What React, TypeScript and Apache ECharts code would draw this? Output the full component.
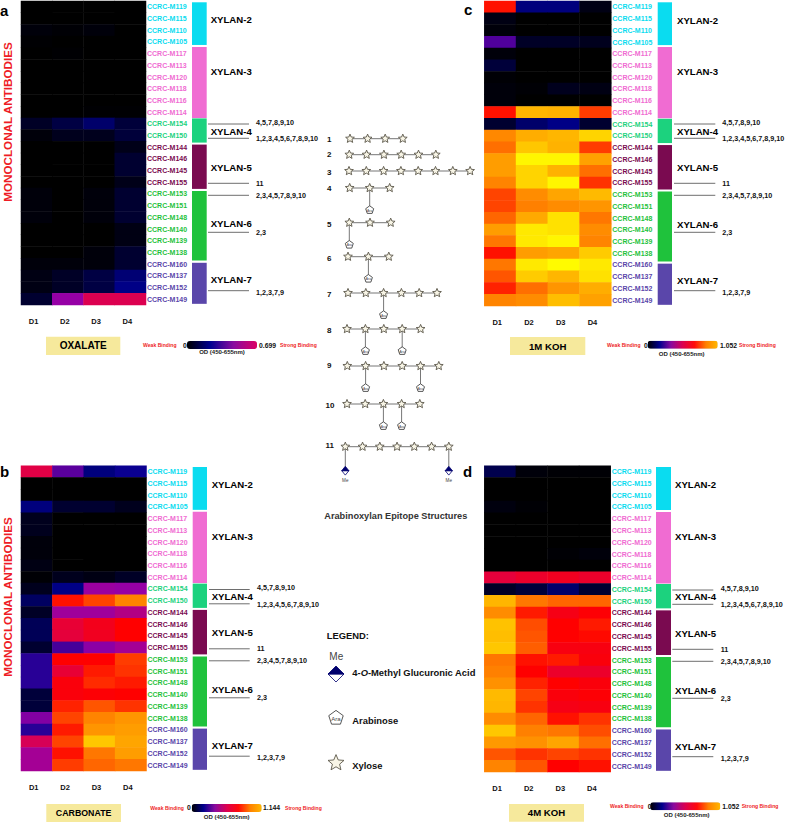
import React, { useEffect, useRef } from "react";
import * as echarts from "echarts";

const FONT = '"Liberation Sans", Arial, sans-serif';

const days = ["D1", "D2", "D3", "D4"];
const xylan2 = ["CCRC-M119", "CCRC-M115", "CCRC-M110", "CCRC-M105"];
const xylan3 = ["CCRC-M117", "CCRC-M113", "CCRC-M120", "CCRC-M118", "CCRC-M116", "CCRC-M114"];
const xylan4 = ["CCRC-M154", "CCRC-M150"];
const xylan5 = ["CCRC-M144", "CCRC-M146", "CCRC-M145", "CCRC-M155"];
const xylan6 = ["CCRC-M153", "CCRC-M151", "CCRC-M148", "CCRC-M140", "CCRC-M139", "CCRC-M138"];
const xylan7 = ["CCRC-M160", "CCRC-M137", "CCRC-M152", "CCRC-M149"];
const groupNames = ["XYLAN-2", "XYLAN-3", "XYLAN-4", "XYLAN-5", "XYLAN-6", "XYLAN-7"];
const groupMembers = [xylan2, xylan3, xylan4, xylan5, xylan6, xylan7];
const groupColors = ["#0ADCF0", "#F06CD2", "#1CD27E", "#7A0A50", "#1FC23C", "#5A46AA"];
const groupBandStart = [0.11, 3.93, 10.04, 12.28, 16.24, 22.39];
const groupBandEnd = [3.76, 10.0, 12.11, 16.07, 22.2, 25.9];
const groupLabelRow = [1.62, 6.04, 11.14, 14.22, 19.04, 23.8];
const epitopeLabels = ["4,5,7,8,9,10", "1,2,3,4,5,6,7,8,9,10", "11", "2,3,4,5,7,8,9,10", "2,3", "1,2,3,7,9"];
const epitopeLineY = [124, 138.3, 183.3, 195.3, 232.3, 290.7];
const epitopeTextY = [122, 138.5, 183.3, 195, 232.3, 292];

// Cell readings on one common colour scale (0 – 1.05), row by row, D1..D4
const oxalate = [
  [0, 0, 0, 0], [0, 0, 0, 0], [0.01, 0.005, 0.01, 0], [0.003, 0, 0, 0],
  [0, 0.003, 0, 0], [0, 0, 0, 0], [0, 0, 0, 0], [0, 0, 0, 0], [0, 0, 0, 0], [0, 0, 0.003, 0.003],
  [0.04, 0.07, 0.11, 0.06], [0.01, 0.03, 0.03, 0.06],
  [0, 0, 0, 0.025], [0, 0, 0, 0.05], [0, 0, 0, 0.05], [0, 0, 0, 0.025],
  [0.01, 0, 0.01, 0.05], [0.01, 0, 0.01, 0.05], [0.01, 0, 0.01, 0.05], [0, 0, 0, 0.02], [0, 0, 0, 0.02], [0, 0, 0.01, 0.05],
  [0.01, 0.01, 0.01, 0.05], [0.02, 0.04, 0.07, 0.12], [0.02, 0.04, 0.07, 0.14], [0.05, 0.3, 0.45, 0.45],
];
const carbonate = [
  [0.47, 0.24, 0.13, 0.16], [0, 0, 0, 0], [0, 0, 0, 0], [0.13, 0.05, 0.05, 0.03],
  [0.03, 0, 0, 0], [0.03, 0, 0, 0], [0.01, 0, 0, 0], [0.01, 0, 0, 0], [0.02, 0, 0, 0], [0.005, 0.03, 0.02, 0.04],
  [0.03, 0.14, 0.31, 0.3], [0.1, 0.62, 0.68, 0.76],
  [0.04, 0.32, 0.32, 0.36], [0.09, 0.5, 0.55, 0.6], [0.09, 0.49, 0.54, 0.6], [0.05, 0.22, 0.29, 0.33],
  [0.19, 0.6, 0.6, 0.67], [0.19, 0.5, 0.63, 0.66], [0.19, 0.58, 0.65, 0.63], [0.06, 0.58, 0.59, 0.6], [0.06, 0.64, 0.7, 0.66], [0.28, 0.68, 0.76, 0.8],
  [0.19, 0.63, 0.8, 0.82], [0.44, 0.68, 0.92, 0.84], [0.33, 0.62, 0.74, 0.82], [0.33, 0.67, 0.72, 0.74],
];
const koh1m = [
  [0.62, 0.13, 0.13, 0.02], [0.02, 0, 0, 0], [0.01, 0, 0, 0], [0.23, 0.04, 0.04, 0.03],
  [0.01, 0, 0, 0], [0.06, 0, 0, 0], [0.005, 0, 0, 0], [0.01, 0.005, 0.03, 0.02], [0.01, 0, 0, 0], [0.62, 0.88, 0.87, 0.67],
  [0.05, 0.11, 0.14, 0.05], [0.77, 0.86, 0.88, 0.95],
  [0.73, 0.92, 0.87, 0.67], [0.82, 1.03, 1.03, 0.83], [0.82, 0.95, 0.87, 0.73], [0.76, 0.95, 1.03, 0.66],
  [0.68, 0.78, 0.84, 0.89], [0.68, 0.75, 0.78, 0.8], [0.72, 0.85, 0.98, 0.74], [0.82, 1.0, 0.98, 0.78], [0.74, 1.0, 1.03, 0.76], [0.62, 0.82, 0.84, 0.93],
  [0.74, 1.0, 1.04, 1.0], [0.7, 0.93, 0.88, 0.98], [0.64, 0.73, 0.8, 0.86], [0.76, 0.78, 0.9, 0.83],
];
const koh4m = [
  [0.08, 0.01, 0.005, 0.005], [0, 0, 0, 0], [0, 0, 0, 0], [0.015, 0.005, 0, 0],
  [0, 0, 0, 0], [0, 0, 0, 0], [0, 0, 0, 0], [0, 0, 0.005, 0.01], [0, 0, 0, 0], [0.49, 0.52, 0.54, 0.52],
  [0.04, 0.06, 0.11, 0.05], [0.88, 0.74, 0.72, 0.72],
  [0.78, 0.63, 0.56, 0.59], [0.91, 0.69, 0.6, 0.63], [0.9, 0.7, 0.6, 0.61], [0.92, 0.71, 0.57, 0.57],
  [0.74, 0.62, 0.63, 0.58], [0.75, 0.6, 0.52, 0.52], [0.79, 0.64, 0.6, 0.58], [0.89, 0.68, 0.58, 0.59], [0.88, 0.66, 0.56, 0.57], [0.78, 0.72, 0.62, 0.66],
  [0.92, 0.75, 0.74, 0.69], [0.81, 0.79, 0.84, 0.73], [0.7, 0.66, 0.68, 0.66], [0.76, 0.7, 0.6, 0.62],
];

const heatColors = ["#000000", "#000090", "#9600A6", "#DC0050", "#FF0000", "#FF8000", "#FFBE00", "#FFFF00"];
const amberEndColors = ["#000000", "#00008C", "#8A0A9E", "#DC0050", "#FF0A0A", "#FF8000", "#FFB800"];
const crimsonEndColors = ["#000000", "#000090", "#8A0AA0", "#DC0064"];

const panels = [
  { letter: "a", values: oxalate, title: "OXALATE", titleSize: 10, max: "0.699", left: 21, right: 146, top: 1, bottom: 305, dy: 0,
    sideL: 192, sideR: 206.7, nameX: 210.7, lineL: 208, lineR: 249, textX: 256, letterX: 0, letterY: 10.7,
    box: [46, 336.7, 74.3, 18.3], bar: [187, 341], weakX: 143, zeroX: 183, maxX: 259, strongX: 280, legendY: 345, odX: 222, odY: 352, barColors: crimsonEndColors },
  { letter: "b", values: carbonate, title: "CARBONATE", titleSize: 8.8, max: "1.144", left: 21, right: 146.5, top: 465.7, bottom: 771, dy: 465.5,
    sideL: 192.7, sideR: 207, nameX: 211.7, lineL: 209, lineR: 249.7, textX: 257, letterX: 0, letterY: 471.7,
    box: [46.3, 804, 74.7, 18], bar: [191.7, 804], weakX: 150.3, zeroX: 187, maxX: 263, strongX: 285, legendY: 807.7, odX: 226.7, odY: 816.7, barColors: amberEndColors },
  { letter: "c", values: koh1m, title: "1M KOH", titleSize: 9.6, max: "1.052", left: 484.3, right: 611.3, top: 1, bottom: 306, dy: 0,
    sideL: 657.7, sideR: 672, nameX: 677, lineL: 674, lineR: 715.3, textX: 722.3, letterX: 464, letterY: 9,
    box: [510, 337, 75.3, 18], bar: [647.7, 340.7], weakX: 607, zeroX: 644, maxX: 720, strongX: 739, legendY: 345, odX: 681.7, odY: 354, barColors: amberEndColors },
  { letter: "d", values: koh4m, title: "4M KOH", titleSize: 9.6, max: "1.052", left: 484.3, right: 610.7, top: 465.7, bottom: 772, dy: 466,
    sideL: 656, sideR: 671, nameX: 675, lineL: 672.3, lineR: 713.3, textX: 720.7, letterX: 463, letterY: 471.7,
    box: [509, 804, 75, 17.7], bar: [650.3, 802.3], weakX: 610, zeroX: 647.7, maxX: 722.3, strongX: 741.7, legendY: 806, odX: 686.7, odY: 814.7, barColors: amberEndColors },
];

// Epitope structures 1-11
const xyloseCounts = [4, 6, 8, 3, 3, 3, 6, 5, 6, 5, 7];
const arabinoseBranches = [[], [], [], [1], [0], [1], [2], [1, 3], [1, 4], [2, 3], []];
const methylBranches = [[], [], [], [], [], [], [], [], [], [], [0, 6]];
const structureStartX = [350, 349.3, 349, 349.7, 349.3, 348, 348, 347, 347.3, 347, 345.3];
const structurePitch = [17.6, 17.3, 17.3, 20, 20.7, 20.4, 17.8, 18.4, 18.3, 18.2, 17.25];
const structureY = [138.7, 154.7, 171, 188, 222.7, 256.7, 293, 329, 366, 404, 446.7];
const structureLabelY = [139, 154.7, 172.7, 188.3, 224.7, 258.3, 294, 330, 365, 405.7, 445];

const rows = groupMembers.flat();
const rowColor = (name: string) => groupColors[groupMembers.findIndex((m) => m.includes(name))];

function ngon(cx: number, cy: number, radii: number[], count: number) {
  const pts: number[][] = [];
  for (let i = 0; i < count; i++) {
    const a = -Math.PI / 2 + (i * 2 * Math.PI) / count;
    const r = radii[i % radii.length];
    pts.push([cx + r * Math.cos(a), cy + r * Math.sin(a)]);
  }
  return pts;
}
const star = (cx: number, cy: number, r: number) => ({
  type: "polygon",
  z: 10,
  shape: { points: ngon(cx, cy, [r, r * 0.45], 10) },
  style: { fill: "#F8F5E6", stroke: "#5A5648", lineWidth: 0.9 },
});
const arabinose = (cx: number, cy: number, r: number, size: number) => [
  { type: "polygon", z: 10, shape: { points: ngon(cx, cy, [r], 5) }, style: { fill: "#fff", stroke: "#444", lineWidth: 0.9 } },
  txt("Ara", cx, cy + 0.5, { fontSize: size, fontWeight: "normal", fill: "#444", textAlign: "center", z: 11 }),
];
const diamond = (cx: number, cy: number, w: number, h: number) => [
  { type: "polygon", z: 10, shape: { points: [[cx - w, cy], [cx, cy + h], [cx + w, cy]] }, style: { fill: "#fff", stroke: "#00006E", lineWidth: 0.8 } },
  { type: "polygon", z: 10, shape: { points: [[cx - w, cy], [cx, cy - h], [cx + w, cy]] }, style: { fill: "#00006E", stroke: "#00006E", lineWidth: 0.8 } },
];
function txt(text: string, x: number, y: number, o: any = {}) {
  const { z, rotation, ...style } = o;
  return {
    type: "text", x, y, z: z ?? 5, rotation: rotation ?? 0,
    style: { text, fontFamily: FONT, fontWeight: "bold", fontSize: 8, fill: "#111", textAlign: "left", textVerticalAlign: "middle", ...style },
  };
}
const line = (x1: number, y1: number, x2: number, y2: number, stroke = "#6E6E6E", lineWidth = 1) => ({
  type: "line", z: 4, shape: { x1, y1, x2, y2 }, style: { stroke, lineWidth },
});

function buildGraphics() {
  const g: any[] = [];
  panels.forEach((p) => {
    g.push(txt(p.letter, p.letterX, p.letterY, { fontSize: 15, fill: "#000" }));
    groupNames.forEach((n, i) => {
      const y = p.top + ((p.bottom - p.top) / 26) * groupLabelRow[i];
      g.push(txt(n, p.nameX, y, { fontSize: 9.6, fill: "#000" }));
    });
    epitopeLabels.forEach((t, i) => {
      g.push(line(p.lineL, epitopeLineY[i] + p.dy, p.lineR, epitopeLineY[i] + p.dy));
      g.push(txt(t, p.textX, epitopeTextY[i] + p.dy, { fontSize: 7.2 }));
    });
    const [bx, by, bw, bh] = p.box;
    g.push({ type: "rect", z: 3, shape: { x: bx, y: by, width: bw, height: bh }, style: { fill: "#F6E99C" } });
    g.push(txt(p.title, bx + bw / 2, by + bh / 2, { fontSize: p.titleSize, textAlign: "center", fill: "#000" }));
    g.push(txt("Weak Binding", p.weakX, p.legendY, { fontSize: 5.1, fill: "#EE1C25" }));
    g.push(txt("Strong Binding", p.strongX, p.legendY, { fontSize: 5.1, fill: "#EE1C25" }));
    g.push(txt("0", p.zeroX, p.legendY, { fontSize: 6.8 }));
    g.push(txt(p.max, p.maxX, p.legendY, { fontSize: 6.8 }));
    g.push(txt("OD (450-655nm)", p.odX, p.odY, { fontSize: 6, textAlign: "center", fill: "#222" }));
  });

  [122, 597].forEach((y) => {
    g.push(txt("MONOCLONAL ANTIBODIES", 7, y, { fontSize: 11.7, fill: "#EE1C25", textAlign: "center", rotation: Math.PI / 2 }));
  });

  xyloseCounts.forEach((count, s) => {
    const y = structureY[s];
    const x0 = structureStartX[s];
    const pitch = structurePitch[s];
    g.push(txt(String(s + 1), s === 9 || s === 10 ? 325.5 : 327, structureLabelY[s], { fontSize: 8 }));
    g.push(line(x0, y, x0 + (count - 1) * pitch, y, "#777", 1));
    for (let i = 0; i < count; i++) g.push(star(x0 + i * pitch, y, 4.6));
    arabinoseBranches[s].forEach((i) => {
      const x = x0 + i * pitch;
      g.push(line(x, y, x, y + 19, "#777", 1));
      g.push(...arabinose(x, y + 22, 4.2, 3.4));
    });
    methylBranches[s].forEach((i) => {
      const x = x0 + i * pitch;
      g.push(line(x, y, x, y + 20, "#777", 1));
      g.push(...diamond(x, y + 24, 3.6, 4.4));
      g.push(txt("Me", x, y + 34, { fontSize: 4.6, fontWeight: "normal", fill: "#444", textAlign: "center" }));
    });
  });

  g.push(txt("Arabinoxylan Epitope Structures", 324.3, 515.7, { fontSize: 9.2, fill: "#333" }));
  g.push(txt("LEGEND:", 326.7, 635.3, { fontSize: 9.4, fill: "#111" }));
  g.push(txt("Me", 329.3, 656.7, { fontSize: 10, fontWeight: "normal", fill: "#444" }));
  g.push(...diamond(336, 674, 8, 8));
  g.push(txt("{a|4-}{i|O}{a|-Methyl Glucuronic Acid}", 352.3, 672.3, {
    fontSize: 9.4,
    rich: {
      a: { fontFamily: FONT, fontWeight: "bold", fontSize: 9.4, fill: "#111" },
      i: { fontFamily: FONT, fontWeight: "bold", fontStyle: "italic", fontSize: 9.4, fill: "#111" },
    },
  }));
  g.push(...arabinose(336, 718, 7.6, 6));
  g.push(txt("Arabinose", 352.3, 720, { fontSize: 9.4 }));
  g.push(star(336, 763, 8.4));
  g.push(txt("Xylose", 352.3, 765.7, { fontSize: 9.4 }));
  return g;
}

function buildOption() {
  const grids: any[] = [];
  const xAxes: any[] = [];
  const yAxes: any[] = [];
  const series: any[] = [];

  panels.forEach((p, i) => {
    grids.push({ left: p.left, top: p.top, width: p.right - p.left, height: p.bottom - p.top, show: false });
    xAxes.push({
      type: "category", gridIndex: i, data: days, position: "bottom",
      axisLine: { show: false }, axisTick: { show: false }, splitLine: { show: false },
      axisLabel: { color: "#111", fontFamily: FONT, fontWeight: "bold", fontSize: 7.5, margin: 12, padding: [0, 6, 0, 0], interval: 0 },
    });
    yAxes.push({
      type: "category", gridIndex: i, inverse: true, position: "right",
      data: rows.map((r) => ({ value: r, textStyle: { color: rowColor(r) } })),
      axisLine: { show: false }, axisTick: { show: false }, splitLine: { show: false },
      axisLabel: { fontFamily: FONT, fontWeight: "bold", fontSize: 7, margin: 1, interval: 0 },
    });
    series.push({
      type: "heatmap", xAxisIndex: i, yAxisIndex: i, name: p.title,
      data: p.values.flatMap((row, r) => row.map((v, c) => [c, r, v])),
      itemStyle: { borderWidth: 0 }, emphasis: { disabled: true }, silent: true,
    });
  });

  panels.forEach((p, i) => {
    const idx = i + panels.length;
    grids.push({ left: p.sideL, top: p.top, width: p.sideR - p.sideL, height: p.bottom - p.top, show: false });
    xAxes.push({ type: "category", gridIndex: idx, data: ["group"], show: false });
    yAxes.push({ type: "value", gridIndex: idx, min: 0, max: 26, inverse: true, show: false });
    series.push({
      type: "custom", xAxisIndex: idx, yAxisIndex: idx, silent: true,
      encode: { x: 0, y: [1, 2] },
      data: groupNames.map((_, g) => [0, groupBandStart[g], groupBandEnd[g]]),
      renderItem: (params: any, api: any) => {
        const a = api.coord([0, api.value(1)]);
        const b = api.coord([0, api.value(2)]);
        const w = api.size([1, 0])[0];
        return {
          type: "rect",
          shape: { x: a[0] - w / 2, y: a[1], width: w, height: b[1] - a[1] },
          style: { fill: groupColors[params.dataIndex] },
        };
      },
    });
  });

  const visualMap: any[] = [
    {
      type: "continuous", show: false, seriesIndex: [0, 1, 2, 3], dimension: 2, min: 0, max: 1.05,
      inRange: { color: heatColors },
    },
    ...panels.map((p, i) => ({
      type: "continuous", show: true, seriesIndex: [], min: 0, max: 1, orient: "horizontal",
      left: p.bar[0], top: p.bar[1], itemWidth: 8, itemHeight: 70, padding: 0, calculable: false,
      hoverLink: false, text: null, showLabel: false, inRange: { color: p.barColors }, id: "legend" + i,
    })),
  ];

  return {
    animation: false, backgroundColor: "#fff",
    grid: grids, xAxis: xAxes, yAxis: yAxes, series, visualMap,
    graphic: { elements: buildGraphics() },
  };
}

export default function App() {
  const ref = useRef<HTMLDivElement>(null);
  useEffect(() => {
    const chart = echarts.init(ref.current!, undefined, { renderer: "svg" });
    chart.setOption(buildOption() as any);
    return () => chart.dispose();
  }, []);
  return <div ref={ref} style={{ position: "absolute", left: 0, top: 0, width: 785, height: 823 }} />;
}
